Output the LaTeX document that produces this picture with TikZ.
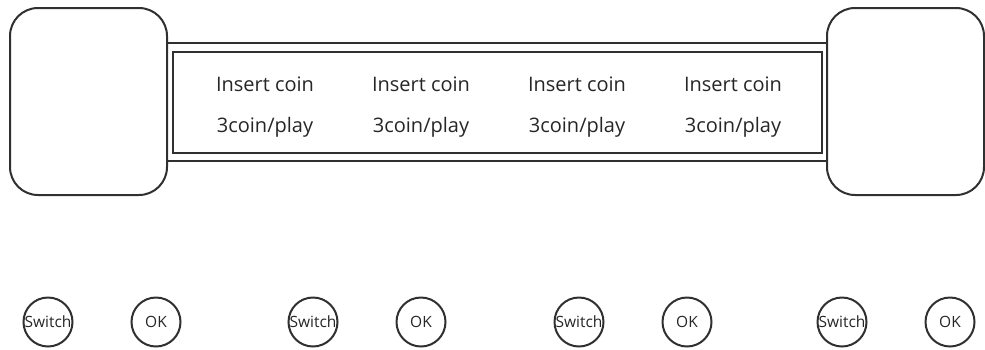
\documentclass[tikz,border=0pt]{standalone}
\usepackage{fontspec}
\setmainfont{Open Sans}
\usepackage{tikz}
\usetikzlibrary{positioning}
\definecolor{linegray}{HTML}{303030}
\definecolor{textgray}{HTML}{262626}

\begin{document}
\begin{tikzpicture}[x=1pt,y=-1pt,
  side/.style={draw=linegray,line width=2pt,fill=white,rounded corners=28pt,minimum width=157pt,minimum height=187pt,inner sep=0pt},
  frame/.style={draw=linegray,line width=2pt,inner sep=0pt},
  msg/.style={text=textgray,font=\fontsize{20}{24}\selectfont,inner sep=0pt},
  btn/.style={draw=linegray,line width=2pt,circle,minimum size=49pt,inner sep=0pt},
  btntext/.style={text=textgray,font=\fontsize{15.5}{18}\selectfont,inner sep=0pt}]
\useasboundingbox (0,0) rectangle (985,349);
% display frame between the two side panels
\node[frame,minimum width=661pt,minimum height=118pt] (outer) at (497.5,102) {};
\node[frame,minimum width=649pt,minimum height=101pt] (inner) at (497.5,102) {};
\node[side] (leftpanel) at (88.5,101.5) {};
\node[side] (rightpanel) at (905.5,101.5) {};
% messages
\foreach \i/\x in {1/265,2/421,3/577,4/733} {
  \node[msg] (coin\i) at (\x,84) {Insert coin};
  \node[msg] (play\i) at (\x,127) {3coin/play};
}
% buttons
\foreach \i/\x in {1/48,2/313,3/579,4/842} {
  \node[btn] (sw\i) at (\x,322) {};
  \node[btntext] (swtext\i) at (sw\i) {Switch};
  \node[btn,right=57pt of sw\i] (ok\i) {};
  \node[btntext] (oktext\i) at (ok\i) {OK};
}
\end{tikzpicture}
\end{document}
